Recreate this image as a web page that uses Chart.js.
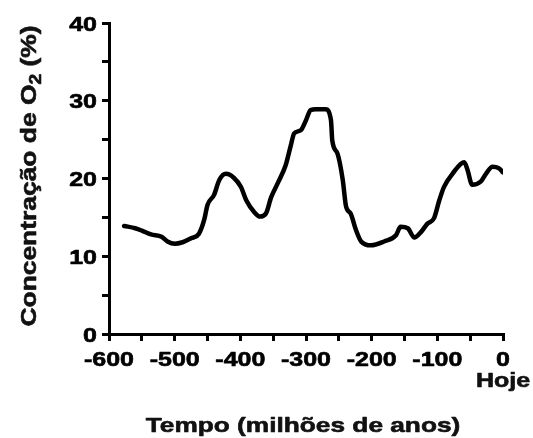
<!DOCTYPE html>
<html lang="pt">
  <head>
    <meta charset="UTF-8" />
    <title>Concentração de O2</title>
    <script src="https://cdn.jsdelivr.net/npm/chart.js"></script>
    <style>
      body { margin: 0; background: #fff; }
      canvas { display: block; }
    </style>
  </head>
  <body>
    <canvas id="o2Chart" width="533" height="438"></canvas>
    <script>
      // tempo em milhões de anos (negativo = passado)
      const tempo = [-577, -560, -550, -536, -520, -511, -500, -488, -475, -463, -455, -450, -440, -432, -422, -410, -399, -391, -379, -370, -361, -353, -343, -331, -323, -318, -308, -300, -293, -285, -270, -262, -260, -252, -244, -239, -232, -224, -216, -201, -181, -163, -156, -145, -135, -125, -115, -105, -97, -90, -77, -59, -54, -47, -34, -26, -16, -6, 0];
      const oxigenio = [13.9, 13.6, 13.3, 12.8, 12.5, 11.9, 11.6, 11.8, 12.3, 12.9, 14.7, 16.6, 17.9, 19.8, 20.6, 20.1, 18.9, 17.2, 15.7, 15.1, 15.5, 17.6, 19.4, 21.7, 24.3, 25.8, 26.2, 27.5, 28.8, 28.9, 28.9, 27.5, 24.9, 23.2, 19.8, 16.4, 15.5, 13.4, 11.9, 11.4, 11.9, 12.7, 13.8, 13.6, 12.4, 13.1, 14.2, 14.9, 17.2, 18.9, 20.6, 22.1, 21.1, 19.2, 19.6, 20.6, 21.5, 21.3, 20.8];
      const xLabels = [-600, -500, -400, -300, -200, -100, 0];
      const yLabels = [0, 10, 20, 30, 40];

      const FONT = '"Liberation Sans", Arial, sans-serif';
      const INK = '#111';

      // texto em negrito esticado na horizontal, como no original
      function wideText(ctx, text, x, y, align, size, sx) {
        ctx.save();
        ctx.font = `bold ${size}px ${FONT}`;
        ctx.translate(x, y);
        ctx.scale(sx, 1);
        ctx.textAlign = align;
        ctx.textBaseline = 'alphabetic';
        ctx.lineWidth = 0.6;
        ctx.strokeStyle = ctx.fillStyle;
        ctx.lineJoin = 'round';
        ctx.strokeText(text, 0, 0);
        ctx.fillText(text, 0, 0);
        ctx.restore();
      }

      const labelsPlugin = {
        id: 'labels',
        afterDraw(chart) {
          const ctx = chart.ctx;
          const xs = chart.scales.x;
          const ys = chart.scales.y;
          ctx.fillStyle = '#000';
          yLabels.forEach((v) => {
            wideText(ctx, String(v), 97, ys.getPixelForValue(v) + 7.5, 'right', 20, 1.25);
          });
          xLabels.forEach((v) => {
            wideText(ctx, String(v), xs.getPixelForValue(v), 366, 'center', 20, 1.25);
          });
          ctx.fillStyle = INK;
          wideText(ctx, 'Hoje', xs.getPixelForValue(0), 387, 'center', 20, 1.25);
          wideText(ctx, 'Tempo (milhões de anos)', 303, 432, 'center', 21, 1.25);

          // título do eixo y com subscrito
          ctx.save();
          ctx.translate(36, 176);
          ctx.rotate(-Math.PI / 2);
          ctx.scale(1.2, 1);
          ctx.lineWidth = 0.6;
          ctx.strokeStyle = INK;
          ctx.lineJoin = 'round';
          const parts = [
            ['Concentração de O', 22, 0],
            ['2', 16, 5],
            [' (%)', 22, 0],
          ];
          let total = 0;
          parts.forEach((p) => {
            ctx.font = `bold ${p[1]}px ${FONT}`;
            total += ctx.measureText(p[0]).width;
          });
          let cx = -total / 2;
          ctx.textAlign = 'left';
          parts.forEach((p) => {
            ctx.font = `bold ${p[1]}px ${FONT}`;
            ctx.strokeText(p[0], cx, p[2]);
            ctx.fillText(p[0], cx, p[2]);
            cx += ctx.measureText(p[0]).width;
          });
          ctx.restore();
        },
      };

      new Chart(document.getElementById('o2Chart'), {
        type: 'line',
        data: {
          datasets: [
            {
              data: tempo.map((t, i) => ({ x: t, y: oxigenio[i] })),
              borderColor: '#000',
              borderWidth: 4.5,
              pointRadius: 0,
              cubicInterpolationMode: 'monotone',
              borderCapStyle: 'round',
              borderJoinStyle: 'round',
            },
          ],
        },
        options: {
          responsive: false,
          animation: false,
          layout: { padding: { top: 23, right: 30 } },
          plugins: { legend: { display: false }, tooltip: { enabled: false } },
          scales: {
            x: {
              type: 'linear',
              min: -600,
              max: 0,
              ticks: { display: false, stepSize: 50 },
              grid: { drawOnChartArea: false, drawTicks: true, tickLength: 7, color: '#000', lineWidth: 3 },
              border: { display: true, color: '#000', width: 3 },
              afterFit(scale) { scale.height = 104; },
            },
            y: {
              min: 0,
              max: 40,
              ticks: { display: false, stepSize: 5 },
              grid: { drawOnChartArea: false, drawTicks: true, tickLength: 7, color: '#000', lineWidth: 3 },
              border: { display: true, color: '#000', width: 3 },
              afterFit(scale) { scale.width = 109; },
            },
          },
        },
        plugins: [labelsPlugin],
      });
    </script>
  </body>
</html>
